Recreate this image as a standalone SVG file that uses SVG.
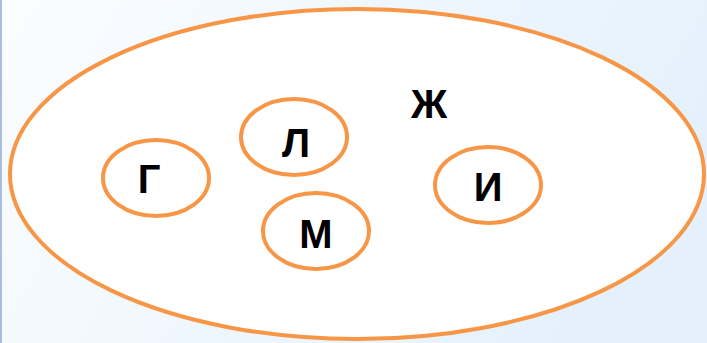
<svg xmlns="http://www.w3.org/2000/svg" width="707" height="343" viewBox="0 0 707 343">
<defs>
<linearGradient id="bg" x1="0" y1="0" x2="1" y2="0.3">
<stop offset="0" stop-color="#FBFDFF"/>
<stop offset="1" stop-color="#E4F1FC"/>
</linearGradient>
<style>
.ring{fill:#FFFFFF;stroke:#F79646;stroke-width:4}
.lbl{font-family:"Liberation Sans",Arial,sans-serif;font-weight:bold;font-size:40px;fill:#000;text-anchor:middle}
</style>
</defs>
<rect x="0" y="0" width="707" height="343" fill="url(#bg)"/>
<rect x="0" y="0" width="2" height="343" fill="#A7BEDD"/>
<g id="zh">
<ellipse class="ring" cx="357" cy="174" rx="347" ry="165"/>
<text class="lbl" x="429" y="118">Ж</text>
</g>
<g id="g">
<ellipse class="ring" cx="156" cy="178" rx="53" ry="38"/>
<text class="lbl" x="149" y="193">Г</text>
</g>
<g id="l">
<ellipse class="ring" cx="294" cy="137" rx="53" ry="38"/>
<text class="lbl" x="296" y="157">Л</text>
</g>
<g id="m">
<ellipse class="ring" cx="316" cy="231" rx="53" ry="38"/>
<text class="lbl" x="316" y="248">М</text>
</g>
<g id="i">
<ellipse class="ring" cx="488" cy="185" rx="53" ry="38"/>
<text class="lbl" x="488" y="201">И</text>
</g>
<g id="connectors"/>
</svg>
